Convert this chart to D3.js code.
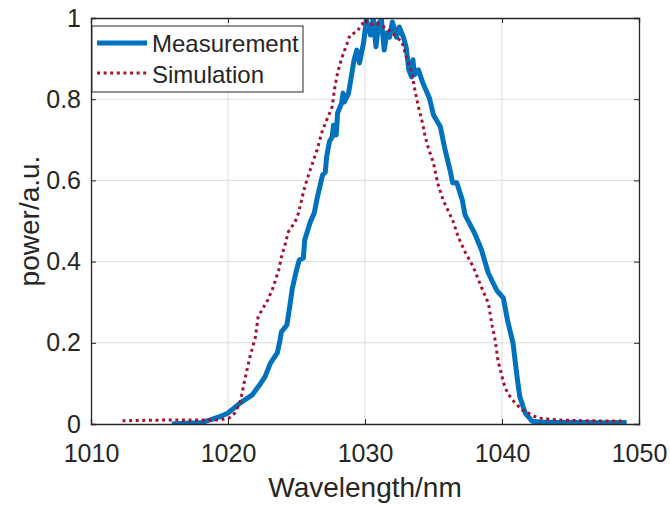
<!DOCTYPE html>
<html>
<head>
<meta charset="utf-8">
<script src="https://cdn.jsdelivr.net/npm/d3@7"></script>
<style>
  body { margin: 0; background: #fff; }
  svg { display: block; font-family: Arial, "Liberation Sans", sans-serif; }
  .grid line { stroke: #dcdcdc; stroke-width: 1; }
  .axis path, .axis line { stroke: #262626; }
  .axis text { fill: #262626; font-size: 25px; }
</style>
</head>
<body>
<svg width="670" height="506"></svg>
<script>
// measured spectrum (wavelength in nm, normalised power)
var measWavelength = [1015.9, 1017.0, 1018.0, 1018.7, 1019.4, 1020.0, 1020.9, 1021.75, 1022.3, 1022.7,
  1023.1, 1023.6, 1023.8, 1023.9, 1024.3, 1024.5, 1024.7, 1025.0, 1025.2, 1025.5,
  1025.6, 1026.0, 1026.3, 1026.5, 1026.7, 1026.9, 1027.1, 1027.2, 1027.4, 1027.6,
  1027.7, 1027.9, 1028.0, 1028.3, 1028.4, 1028.5, 1028.8, 1029.0, 1029.2, 1029.4,
  1029.6, 1029.9, 1030.1, 1030.4, 1030.6, 1030.8, 1031.0, 1031.2, 1031.4, 1031.6,
  1031.8, 1032.0, 1032.3, 1032.5, 1032.8, 1033.0, 1033.2, 1033.4, 1033.5, 1033.6,
  1033.9, 1034.2, 1034.7, 1035.0, 1035.5, 1035.8, 1036.2, 1036.4, 1036.7, 1037.1,
  1037.3, 1038.0, 1038.5, 1039.0, 1039.6, 1040.1, 1040.4, 1040.8, 1041.1, 1041.3,
  1041.7, 1042.2, 1042.8, 1044.0, 1046.0, 1047.5, 1049.1];
var measPower = [0.000, 0.002, 0.003, 0.010, 0.018, 0.027, 0.052, 0.071, 0.096, 0.116,
  0.150, 0.175, 0.207, 0.227, 0.244, 0.288, 0.335, 0.379, 0.404, 0.409,
  0.453, 0.497, 0.520, 0.555, 0.584, 0.613, 0.620, 0.658, 0.695, 0.707,
  0.736, 0.712, 0.766, 0.791, 0.815, 0.793, 0.815, 0.855, 0.897, 0.921,
  0.889, 0.940, 0.995, 0.958, 1.000, 0.929, 0.988, 0.995, 0.921, 0.963,
  0.953, 0.990, 0.953, 0.978, 0.953, 0.929, 0.872, 0.855, 0.897, 0.860,
  0.872, 0.842, 0.803, 0.761, 0.732, 0.682, 0.626, 0.594, 0.594, 0.552,
  0.515, 0.470, 0.429, 0.372, 0.330, 0.310, 0.256, 0.200, 0.116, 0.067,
  0.027, 0.007, 0.005, 0.004, 0.004, 0.003, 0.004];

// simulated spectrum
var simWavelength = [1012.3, 1014.0, 1016.0, 1018.0, 1019.4, 1020.1, 1020.5, 1020.9, 1021.2, 1021.6,
  1022.0, 1022.2, 1022.6, 1022.9, 1023.3, 1023.7, 1023.9, 1024.2, 1024.4, 1024.9,
  1025.15, 1025.6, 1026.0, 1026.5, 1026.9, 1027.3, 1027.6, 1027.8, 1028.0, 1028.3,
  1028.7, 1028.9, 1029.4, 1029.8, 1030.0, 1030.4, 1030.7, 1031.2, 1031.5, 1032.0,
  1032.3, 1032.7, 1032.9, 1033.1, 1033.4, 1033.6, 1033.9, 1034.2, 1034.4, 1034.6,
  1035.0, 1035.3, 1035.7, 1036.0, 1036.4, 1036.8, 1037.3, 1037.9, 1038.5, 1039.0,
  1039.3, 1039.5, 1039.7, 1040.1, 1040.4, 1040.9, 1041.5, 1042.6, 1044.0, 1046.0, 1049.0];
var simPower = [0.008, 0.009, 0.010, 0.010, 0.010, 0.015, 0.027, 0.055, 0.105, 0.165,
  0.214, 0.264, 0.288, 0.305, 0.337, 0.379, 0.411, 0.446, 0.473, 0.498,
  0.520, 0.584, 0.626, 0.675, 0.724, 0.756, 0.781, 0.830, 0.865, 0.901,
  0.938, 0.958, 0.966, 0.985, 0.995, 0.983, 0.988, 0.983, 0.975, 0.963,
  0.953, 0.941, 0.916, 0.897, 0.867, 0.830, 0.781, 0.741, 0.707, 0.682,
  0.643, 0.594, 0.552, 0.530, 0.502, 0.461, 0.424, 0.387, 0.337, 0.298,
  0.239, 0.207, 0.158, 0.103, 0.076, 0.054, 0.034, 0.015, 0.010, 0.008, 0.007];

var xTicks = [1010, 1020, 1030, 1040, 1050];
var yTicks = [0, 0.2, 0.4, 0.6, 0.8, 1];
var seriesNames = ["Measurement", "Simulation"];

var svg = d3.select("svg"),
    margin = {top: 18, right: 31, bottom: 82, left: 91},
    width = svg.attr("width") - margin.left - margin.right,
    height = svg.attr("height") - margin.top - margin.bottom;

var x = d3.scaleLinear().domain([1010, 1050]).range([0, width]),
    y = d3.scaleLinear().domain([0, 1]).range([height, 0]);

var g = svg.append("g")
    .attr("transform", "translate(" + margin.left + "," + margin.top + ")");

svg.append("defs").append("clipPath")
    .attr("id", "clip")
  .append("rect")
    .attr("width", width)
    .attr("height", height);

// grid
g.append("g").attr("class", "grid")
  .selectAll("line.v").data(xTicks.slice(1, -1)).enter().append("line")
    .attr("x1", d => x(d)).attr("x2", d => x(d))
    .attr("y1", 0).attr("y2", height);
g.select(".grid")
  .selectAll("line.h").data(yTicks.slice(1, -1)).enter().append("line")
    .attr("y1", d => y(d)).attr("y2", d => y(d))
    .attr("x1", 0).attr("x2", width);

var measData = measWavelength.map((w, i) => ({x: w, y: measPower[i]}));
var simData = simWavelength.map((w, i) => ({x: w, y: simPower[i]}));

var line = d3.line()
    .x(d => x(d.x))
    .y(d => y(d.y));

var plot = g.append("g").attr("clip-path", "url(#clip)");

plot.append("path")
    .datum(measData)
    .attr("fill", "none")
    .attr("stroke", "#0072BD")
    .attr("stroke-width", 5)
    .attr("stroke-linejoin", "round")
    .attr("d", line);

plot.append("path")
    .datum(simData)
    .attr("fill", "none")
    .attr("stroke", "#A2142F")
    .attr("stroke-width", 3)
    .attr("stroke-dasharray", "3,3.6")
    .attr("d", line);

// axes, ticks inside like matlab
var xAxis = d3.axisBottom(x).tickValues(xTicks).tickSize(-5).tickPadding(20).tickFormat(d3.format("d"));
var xAxisTop = d3.axisTop(x).tickValues(xTicks).tickSize(-5).tickFormat("");
var yAxis = d3.axisLeft(y).tickValues(yTicks).tickSize(-5).tickPadding(10).tickFormat(d => d === 0 || d === 1 ? d : d3.format(".1f")(d));
var yAxisRight = d3.axisRight(y).tickValues(yTicks).tickSize(-5).tickFormat("");

g.append("g").attr("class", "axis")
    .attr("transform", "translate(0," + height + ")")
    .call(xAxis);
g.append("g").attr("class", "axis").call(xAxisTop);
g.append("g").attr("class", "axis").call(yAxis);
g.append("g").attr("class", "axis")
    .attr("transform", "translate(" + width + ",0)")
    .call(yAxisRight);
g.selectAll(".axis path").attr("stroke-width", 1.3);
g.selectAll(".axis text").attr("font-family", null);

// axis titles
svg.append("text")
    .attr("x", margin.left + width / 2)
    .attr("y", 497)
    .attr("text-anchor", "middle")
    .attr("fill", "#262626")
    .attr("font-size", 28)
    .text("Wavelength/nm");

svg.append("text")
    .attr("transform", "translate(" + 39 + "," + 221 + ")rotate(-90)")
    .attr("text-anchor", "middle")
    .attr("fill", "#262626")
    .attr("font-size", 28)
    .text("power/a.u.");

// legend
var legend = svg.append("g").attr("transform", "translate(92,26)");
legend.append("rect")
    .attr("width", 211)
    .attr("height", 66)
    .attr("fill", "#fff")
    .attr("stroke", "#262626")
    .attr("stroke-width", 1);
legend.append("line")
    .attr("x1", 5).attr("x2", 55).attr("y1", 17).attr("y2", 17)
    .attr("stroke", "#0072BD").attr("stroke-width", 5);
legend.append("line")
    .attr("x1", 5).attr("x2", 55).attr("y1", 47).attr("y2", 47)
    .attr("stroke", "#A2142F").attr("stroke-width", 3).attr("stroke-dasharray", "3,3.6");
legend.selectAll("text.lbl").data(seriesNames).enter().append("text")
    .attr("x", 60)
    .attr("y", (d, i) => 26 + i * 31)
    .attr("fill", "#262626")
    .attr("font-size", 24)
    .text(d => d);
</script>
</body>
</html>
